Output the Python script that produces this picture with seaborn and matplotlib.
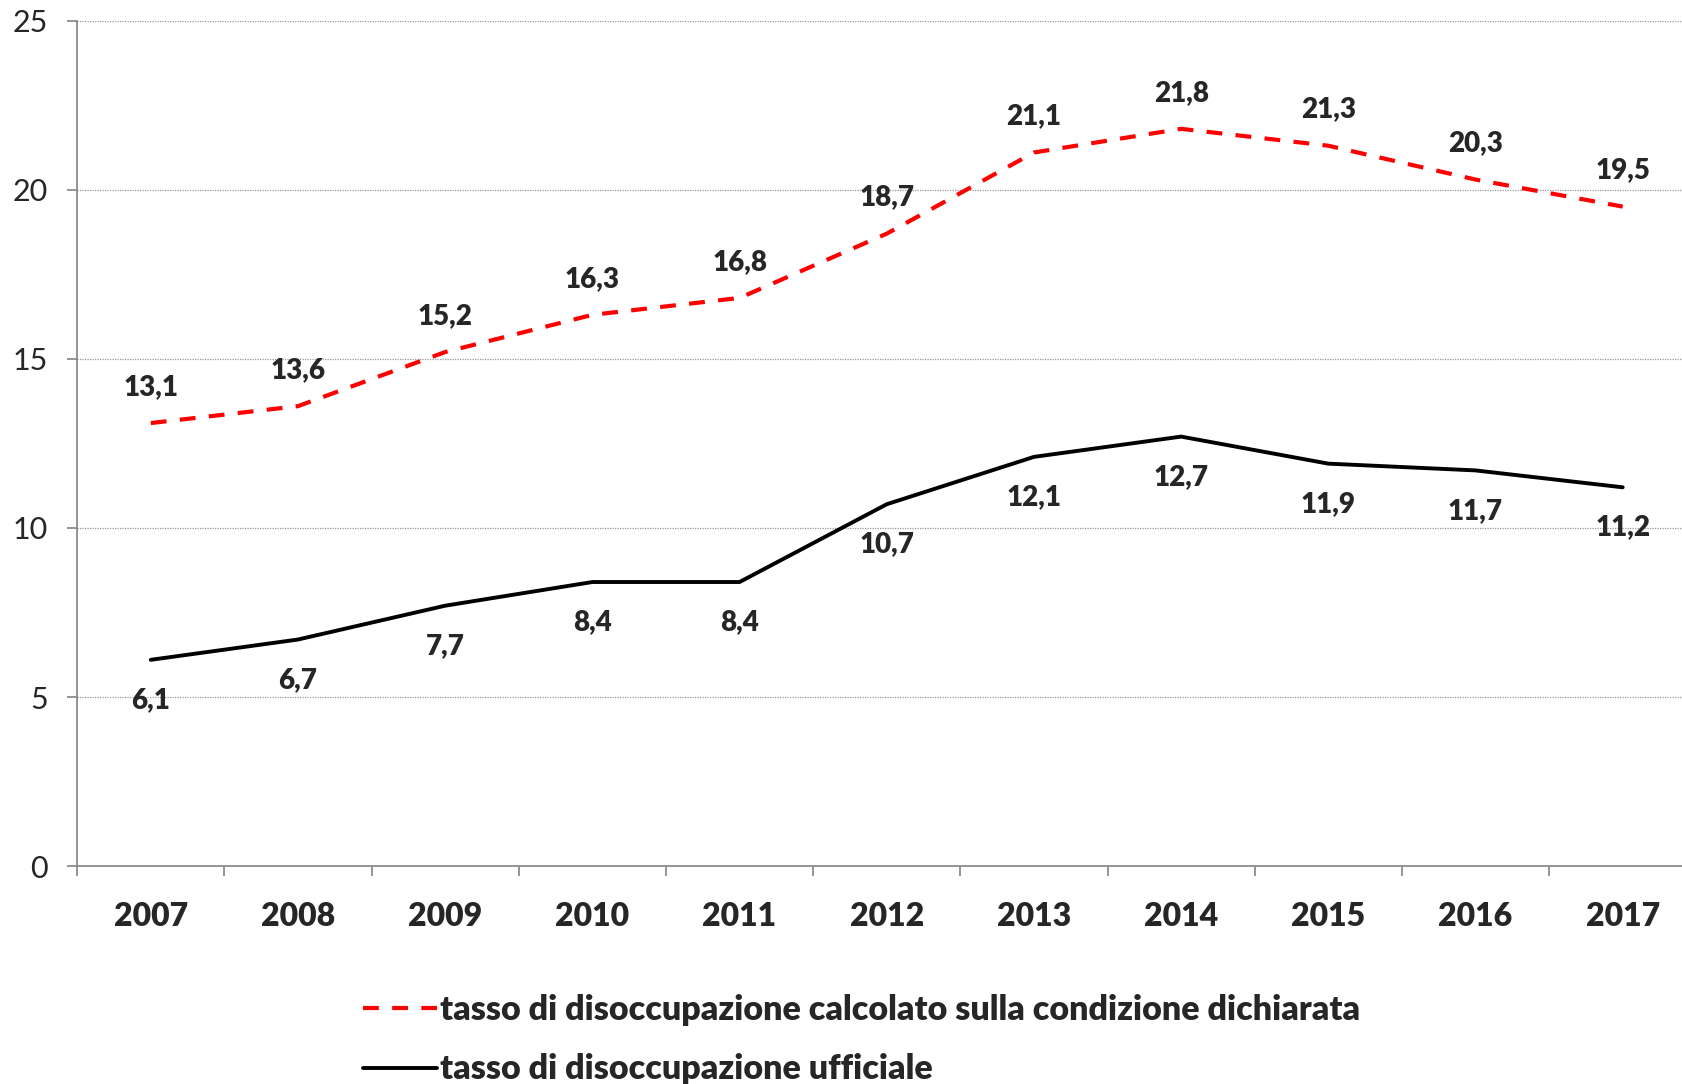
import pandas as pd
import numpy as np
import matplotlib
matplotlib.use('Agg')
import matplotlib.pyplot as plt
import seaborn as sns
from matplotlib.ticker import FixedLocator

anni = ['2007', '2008', '2009', '2010', '2011', '2012', '2013', '2014', '2015', '2016', '2017']
tasso_dichiarata = [13.1, 13.6, 15.2, 16.3, 16.8, 18.7, 21.1, 21.8, 21.3, 20.3, 19.5]
tasso_ufficiale = [6.1, 6.7, 7.7, 8.4, 8.4, 10.7, 12.1, 12.7, 11.9, 11.7, 11.2]
nome_dichiarata = 'tasso di disoccupazione calcolato sulla condizione dichiarata'
nome_ufficiale = 'tasso di disoccupazione ufficiale'

sns.set_theme(style='white')
plt.rcParams['font.family'] = ['Lato', 'DejaVu Sans']
peso = 'heavy'

df = pd.DataFrame({'anno': anni, 'dichiarata': tasso_dichiarata, 'ufficiale': tasso_ufficiale})

fig = plt.figure(figsize=(16.82, 10.84), dpi=100)
# l'asse prosegue oltre il bordo destro, come nell'originale
ax = fig.add_axes([0.0459, 0.201, 0.9626, 0.78])

sns.lineplot(data=df, x='anno', y='dichiarata', ax=ax, color='#ff0000', linewidth=3,
             dashes=False, label=nome_dichiarata, sort=False)
sns.lineplot(data=df, x='anno', y='ufficiale', ax=ax, color='black', linewidth=2.8,
             label=nome_ufficiale, sort=False)
ax.lines[0].set_dashes([3.8, 3.2])

# etichette dei valori
for i, v in enumerate(tasso_dichiarata):
    ax.annotate(f'{v:.1f}'.replace('.', ','), (i, v), xytext=(0, 26), textcoords='offset points',
                ha='center', va='center', fontsize=20, fontweight=peso)
for i, v in enumerate(tasso_ufficiale):
    ax.annotate(f'{v:.1f}'.replace('.', ','), (i, v), xytext=(0, -29), textcoords='offset points',
                ha='center', va='center', fontsize=20, fontweight=peso)

ax.set_xlim(-0.5, len(anni) - 0.5)
ax.set_ylim(0, 25)
ax.set_yticks([0, 5, 10, 15, 20, 25])
ax.yaxis.grid(True, linestyle=(0, (1, 1)), color='#999999', linewidth=0.9)
ax.set_xlabel('')
ax.set_ylabel('')

for s in ['top', 'right']:
    ax.spines[s].set_visible(False)
for s in ['left', 'bottom']:
    ax.spines[s].set_color('#8c8c8c')
    ax.spines[s].set_linewidth(1.3)

ax.xaxis.set_minor_locator(FixedLocator(np.arange(-0.5, len(anni), 1.0)))
ax.tick_params(axis='x', which='major', length=0, pad=26, labelsize=23)
ax.tick_params(axis='x', which='minor', length=7, width=1.3, color='#8c8c8c', direction='out', bottom=True)
ax.tick_params(axis='y', which='major', length=7, width=1.3, color='#8c8c8c', direction='out',
               left=True, labelsize=22, pad=14)
for t in ax.get_xticklabels():
    t.set_fontweight(peso)

ax.get_legend().remove()
h, l = ax.get_legend_handles_labels()
leg = fig.legend(h, l, loc='upper left', bbox_to_anchor=(0.208, 0.096), frameon=False,
                 prop={'size': 24.5, 'weight': peso}, handlelength=2.15, handletextpad=0.1,
                 labelspacing=0.82, borderaxespad=0)

fig.savefig('out.png', dpi=100)
